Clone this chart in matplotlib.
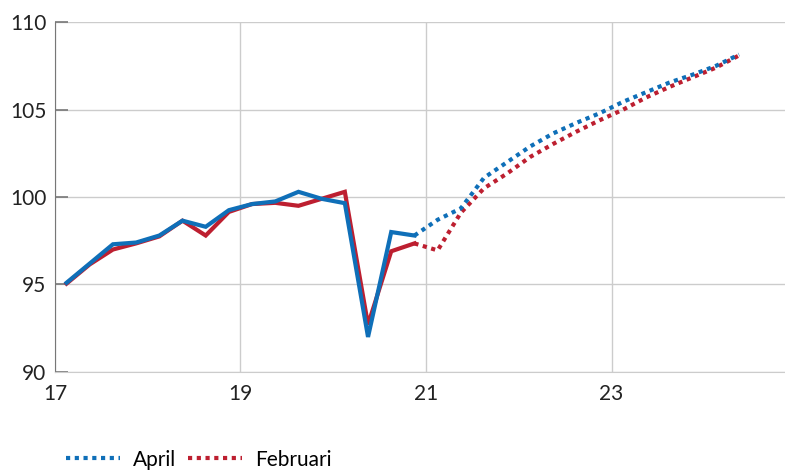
import numpy as np
import matplotlib.pyplot as plt

# kvartal 2017K1 .. 2024K2
start_year = 2017
n_quarters = 30

# utfall (2017K1 - 2020K4)
april_hist = [95.1, 96.2, 97.3, 97.4, 97.8, 98.65, 98.3, 99.25,
              99.6, 99.75, 100.3, 99.9, 99.65, 92.0, 98.0, 97.8]
feb_hist = [95.05, 96.15, 97.0, 97.35, 97.75, 98.65, 97.8, 99.15,
            99.6, 99.67, 99.5, 99.9, 100.3, 92.7, 96.9, 97.35]

# prognos (från 2020K4)
april_fc = [97.8, 98.7, 99.35, 101.1, 102.0, 102.9, 103.65, 104.25,
            104.8, 105.45, 106.0, 106.55, 107.0, 107.5, 108.15]
feb_fc = [97.35, 96.95, 99.1, 100.5, 101.35, 102.3, 103.05, 103.75,
          104.4, 105.0, 105.7, 106.3, 106.85, 107.4, 108.1]

blue = '#0f6fb8'
red = '#bd1f30'

x = np.arange(n_quarters) / 4 + 17 + 0.125
n_hist = len(april_hist)
x_hist = x[:n_hist]
x_fc = x[n_hist - 1:n_hist - 1 + len(april_fc)]

plt.rcParams['font.family'] = ['Lato', 'DejaVu Sans']

fig = plt.figure(figsize=(7.85, 4.72), dpi=100)
ax = fig.add_axes([0.070, 0.212, 0.93, 0.741])

dots = (0, (1, 1.1))
ax.plot(x_hist, feb_hist, color=red, lw=3, solid_joinstyle='miter')
ax.plot(x_fc, feb_fc, color=red, lw=3, linestyle=dots)
ax.plot(x_hist, april_hist, color=blue, lw=3, solid_joinstyle='miter')
ax.plot(x_fc, april_fc, color=blue, lw=3, linestyle=dots)

ax.set_xlim(17, 24.87)
ax.set_ylim(90, 110)
ax.set_xticks([17, 19, 21, 23])
ax.set_yticks([90, 95, 100, 105, 110])

ax.grid(True, color='#cccccc', lw=1)
ax.set_axisbelow(True)
for s in ['top', 'right']:
    ax.spines[s].set_visible(False)
ax.spines['left'].set_color('#777777')
ax.spines['bottom'].set_color('#cccccc')
ax.tick_params(axis='y', direction='in', length=9, width=1.2, color='#777777',
               labelsize=15, labelcolor='#222222', pad=6)
ax.tick_params(axis='x', length=0, labelsize=15, labelcolor='#222222', pad=9)

h_april, = ax.plot([], [], color=blue, lw=3, linestyle=dots)
h_feb, = ax.plot([], [], color=red, lw=3, linestyle=dots)
fig.legend([h_april, h_feb], ['April', 'Februari'], loc='lower left',
           bbox_to_anchor=(0.06, -0.035), ncol=2, frameon=False, fontsize=15,
           handlelength=2.6, columnspacing=0.6, handletextpad=0.6)

fig.savefig('out.png', dpi=100)
